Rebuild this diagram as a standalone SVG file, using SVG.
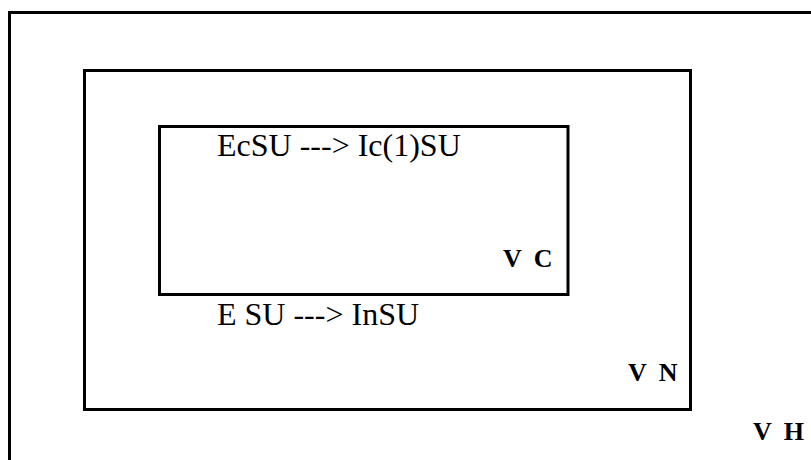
<svg xmlns="http://www.w3.org/2000/svg" width="811" height="460" viewBox="0 0 811 460">
  <style>
    .box { fill: none; stroke: #000; stroke-width: 3; }
    .rule { font-family: "Liberation Serif", "Times New Roman", serif; font-size: 32px; fill: #000; }
    .tag { font-family: "Liberation Serif", "Times New Roman", serif; font-size: 26px; font-weight: bold; fill: #000; word-spacing: 6px; }
  </style>
  <rect width="811" height="460" fill="#fff"/>
  <g id="vh">
    <rect class="box" x="9.5" y="12.5" width="820" height="470"/>
    <text class="tag" x="753" y="440">V H</text>
  </g>
  <g id="vn">
    <rect class="box" x="84.5" y="70.5" width="606" height="339"/>
    <text class="rule" x="217" y="325">E SU ---&gt; InSU</text>
    <text class="tag" x="628" y="381">V N</text>
  </g>
  <g id="vc">
    <rect class="box" x="159.5" y="126.5" width="408.5" height="168"/>
    <text class="rule" x="217" y="156">EcSU ---&gt; Ic(1)SU</text>
    <text class="tag" x="503" y="266.5">V C</text>
  </g>
  <g id="connectors"/>
</svg>
